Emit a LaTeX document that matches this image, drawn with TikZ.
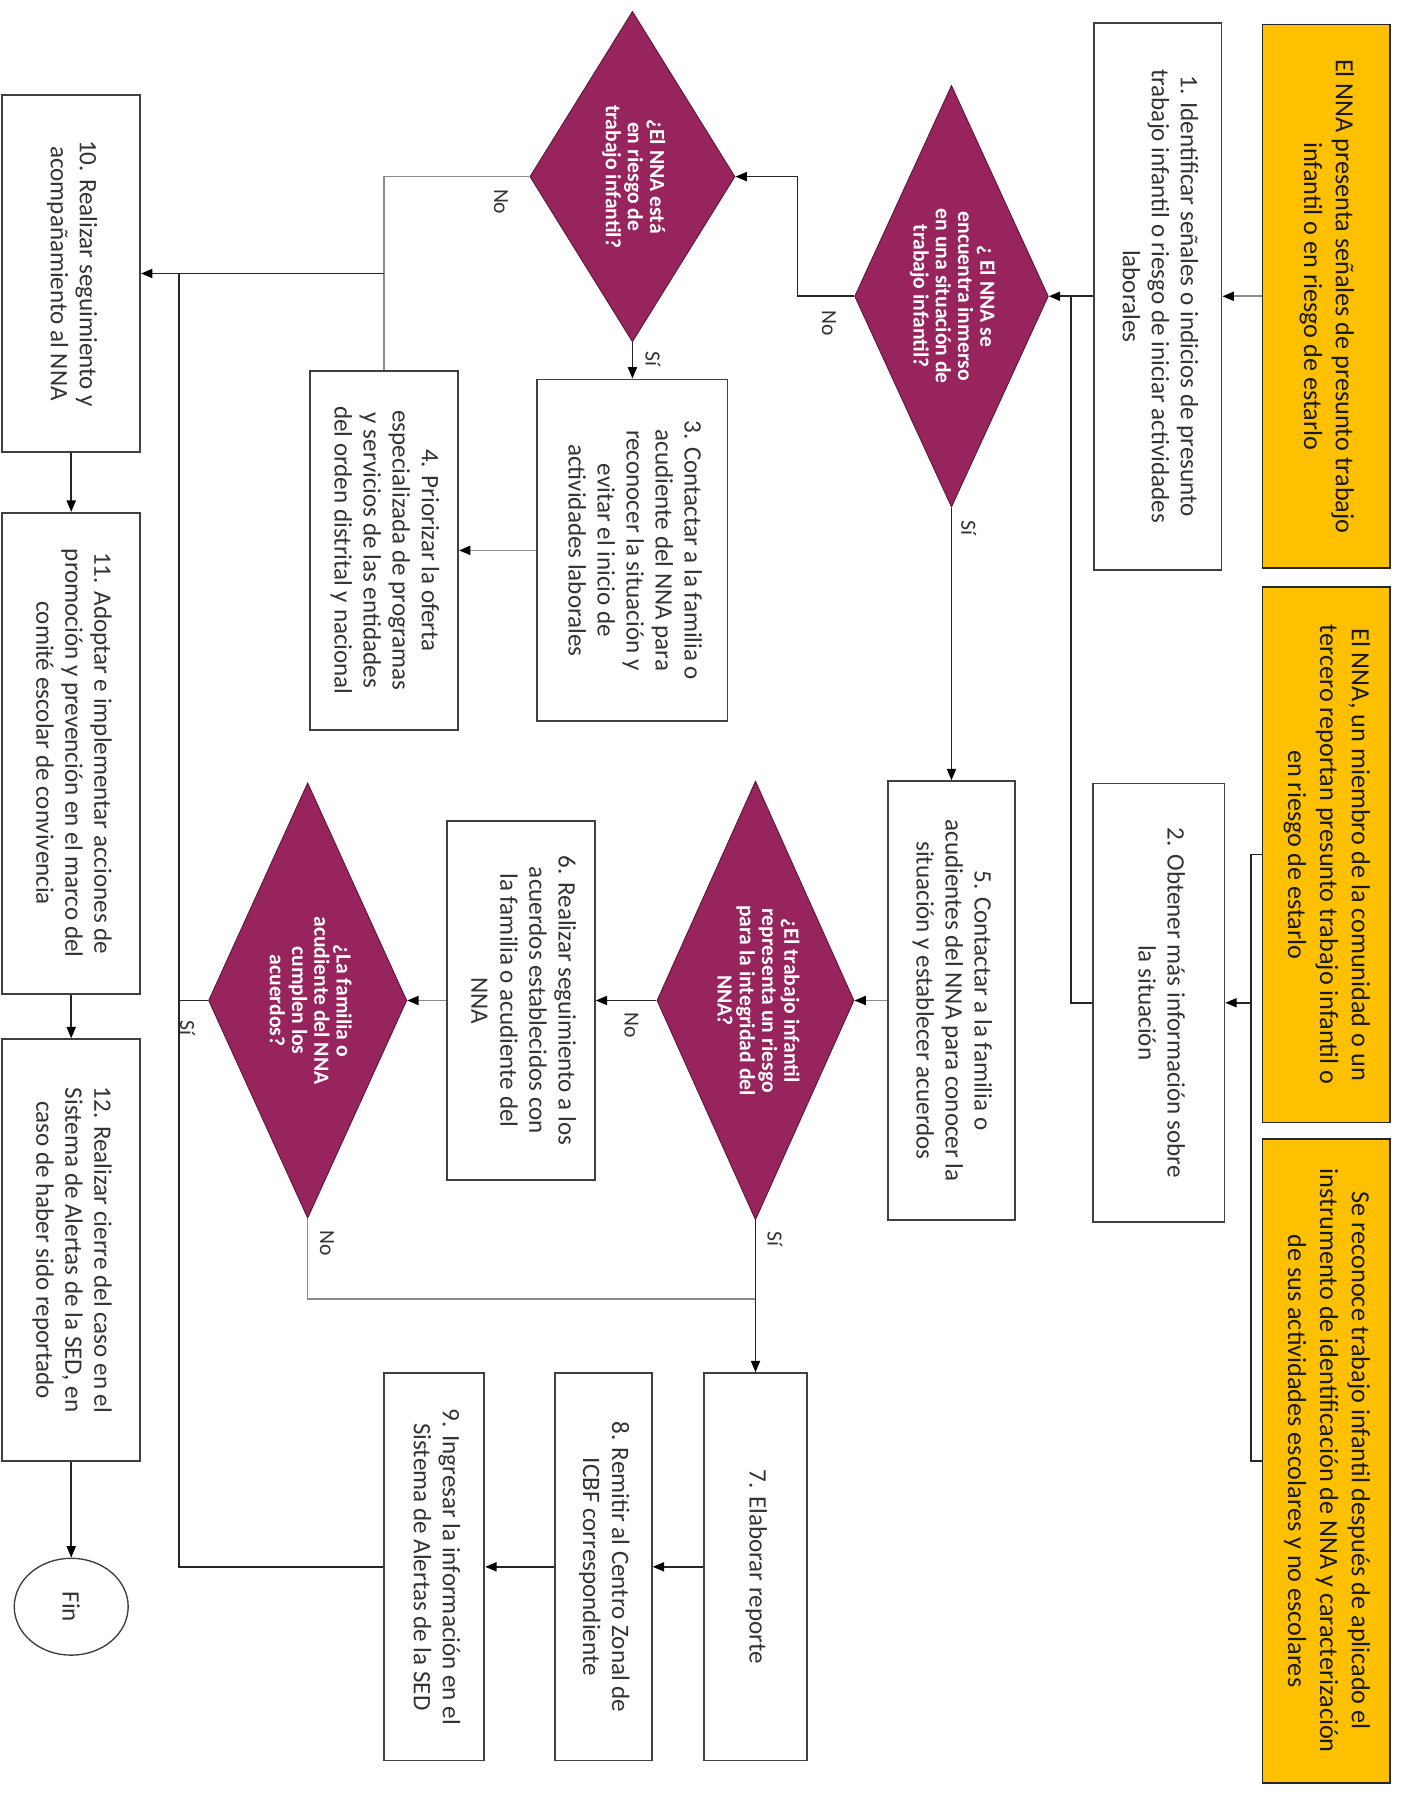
\documentclass[tikz,border=0pt]{standalone}
\usepackage{fontspec}
\setmainfont{Carlito}
\usepackage{graphicx}
\usetikzlibrary{calc,shapes.geometric,arrows.meta}
\definecolor{oro}{RGB}{255,192,0}
\definecolor{vino}{RGB}{152,36,94}
\newcommand{\vt}[1]{\rotatebox{-90}{\begin{tabular}{@{}c@{}}#1\end{tabular}}}

\begin{document}
\begin{tikzpicture}[x=1pt,y=-1pt,
	>={Triangle[length=10pt,width=8pt,color=black]},
	box/.style={draw=black!75,line width=1.6pt,fill=white,inner sep=0pt,text=black!80,font=\fontsize{22}{25.5}\selectfont},
	yel/.style={box,fill=oro,draw=black!85,text=black!90,font=\fontsize{23}{28}\selectfont},
	dia/.style={diamond,shape aspect=0.45,fill=vino,draw=vino!60!black,line width=0.8pt,inner sep=0pt,text=white,font=\bfseries\fontsize{19}{19.5}\selectfont},
	flow/.style={draw=black!85,line width=1.4pt},
	flowlite/.style={draw=black!45,line width=1.4pt},
	lbl/.style={rotate=-90,font=\fontsize{19}{19}\selectfont,text=black!80}]
	\useasboundingbox (0,0) rectangle (1240,1577);
	
	\node[yel,minimum width=112,minimum height=477] (y1) at (1164,260) {\vt{El NNA presenta señales de presunto trabajo\\infantil o en riesgo de estarlo}};
	\node[yel,minimum width=112,minimum height=470] (y2) at (1164,750) {\vt{El NNA, un miembro de la comunidad o un\\tercero reportan presunto trabajo infantil o\\en riesgo de estarlo}};
	\node[yel,minimum width=112,minimum height=565] (y3) at (1164,1282) {\vt{Se reconoce trabajo infantil después de aplicado el\\instrumento de identificación de NNA y caracterización\\de sus actividades escolares y no escolares}};
	
	\node[box,minimum width=112,minimum height=480] (b1) at (1016,260) {\vt{1. Identificar señales o indicios de presunto\\trabajo infantil o riesgo de iniciar actividades\\laborales}};
	\node[box,minimum width=115,minimum height=385] (b2) at (1017,880) {\vt{2. Obtener más información sobre\\la situación}};
	\node[dia,minimum width=170,minimum height=370] (dA) at (835,260) {\vt{¿ El NNA se\\encuentra inmerso\\en una situación de\\trabajo infantil?}};
	\node[dia,minimum width=180,minimum height=290] (dB) at (555,155) {\vt{¿El NNA está\\en riesgo de\\trabajo infantil?}};
	\node[box,minimum width=167,minimum height=300] (b3) at (555,483) {\vt{3. Contactar a la familia o\\acudiente del NNA para\\reconocer la situación y\\evitar el inicio de\\actividades laborales}};
	\node[box,minimum width=130,minimum height=315] (b4) at (337,483) {\vt{4. Priorizar la oferta\\especializada de programas\\y servicios de las entidades\\del orden distrital y nacional}};
	\node[box,minimum width=112,minimum height=385] (b5) at (835,878) {\vt{5. Contactar a la familia o\\acudientes del NNA para conocer la\\situación y establecer acuerdos}};
	\node[dia,minimum width=173,minimum height=385] (dC) at (663,878) {\vt{¿El trabajo infantil\\representa un riesgo\\para la integridad del\\NNA?}};
	\node[box,minimum width=130,minimum height=315] (b6) at (457,878) {\vt{6. Realizar seguimiento a los\\acuerdos establecidos con\\la familia o acudiente del\\NNA}};
	\node[dia,minimum width=174,minimum height=382] (dD) at (270,878) {\vt{¿La familia o\\acudiente del NNA\\cumplen los\\acuerdos?}};
	
	\foreach \n/\x/\w/\t in {7/663/90/{7. Elaborar reporte},
		8/529.5/85/{8. Remitir al Centro Zonal de\\ICBF correspondiente},
		9/381/88/{9. Ingresar la información en el\\Sistema de Alertas de la SED}%
	}
	{\node[box,minimum width=\w,minimum height=340] (b\n) at (\x,1375) {\vt{\t}};};
	
	\foreach \n/\y/\h/\t in {10/240/313/{10. Realizar seguimiento y\\acompañamiento al NNA},
		11/661/422/{11. Adoptar e implementar acciones de\\promoción y prevención en el marco del\\comité escolar de convivencia},
		12/1097/370/{12. Realizar cierre del caso en el\\Sistema de Alertas de la SED, en\\caso de haber sido reportado}%
	}
	{\node[box,minimum width=121,minimum height=\h] (b\n) at (62.5,\y) {\vt{\t}};};
	\node[box,ellipse,minimum width=100,minimum height=85,line width=1.2pt] (fin) at (62.5,1410) {\rotatebox{-90}{Fin}};
	
	\coordinate (jA) at (940,260);
	\coordinate (jB) at (1098,880);
	\coordinate (jC) at (700,155);
	\coordinate (jD) at (337,240);
	\coordinate (jE) at (157,240);
	\coordinate (jG) at (663,1140);
	
	\draw[flowlite,->] (y1) -- (b1);
	\draw[flow,->] (b1) -- (dA);
	\draw[flow] (b2.west) -| (jA);
	\draw[flow,->] (y2.west) -| (jB) -- (b2.east);
	\draw[flow] (y3.west) -| (jB);
	\draw[flow,->] (dA.west) -| (jC) -- (dB.east);
	\draw[flow,->] (dB) -- (b3);
	\draw[flowlite,->] (b3) -- (b4);
	\draw[flowlite] (dB.west) -| (jD);
	\draw[flowlite] (b4.north) -- (jD);
	\draw[flow,->] (jD) -- (b10.east);
	\draw[flow] (b9.west) -| (jE);
	\draw[flow] (dD.west) -- (dD.west -| jE);
	\draw[flow,->] (dA) -- (b5);
	\draw[flowlite,->] (b5) -- (dC);
	\draw[flow,->] (dC) -- (b6);
	\draw[flowlite,->] (b6) -- (dD);
	\draw[flowlite] (dD.south) |- (jG);
	\draw[flow,->] (dC) -- (b7);
	\foreach \a/\b in {7/8,8/9,10/11,11/12}
	{\draw[flow,->] (b\a) -- (b\b);}
	\draw[flow,->] (b12) -- (fin);
	
	\node[lbl] (noA) at ($(dA.west)+(-22,24)$) {No};
	\node[lbl] (siA) at ($(dA.south)+(15,18)$) {Sí};
	\node[lbl] (noB) at ($(dB.west)+(-25,22)$) {No};
	\node[lbl] (siB) at ($(dB.south)+(18,15)$) {Sí};
	\node[lbl] (noC) at ($(dC.west)+(-22,22)$) {No};
	\node[lbl] (siC) at ($(dC.south)+(17,16)$) {Sí};
	\node[lbl] (siD) at ($(dD.west)+(-18,24)$) {Sí};
	\node[lbl] (noD) at ($(dD.south)+(17,22)$) {No};
	
\end{tikzpicture}
\end{document}
